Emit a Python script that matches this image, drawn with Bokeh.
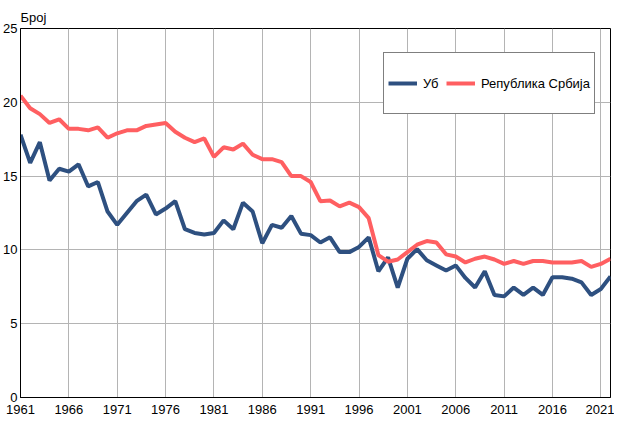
from bokeh.plotting import figure
from bokeh.models import Range1d, FixedTicker, Legend, LegendItem
from bokeh.embed import file_html
from bokeh.resources import INLINE

years = list(range(1961, 2023))
ub = [17.8, 15.9, 17.3, 14.7, 15.5, 15.3, 15.8, 14.3, 14.6, 12.6,
      11.7, 12.5, 13.3, 13.75, 12.4, 12.8, 13.3, 11.4, 11.15, 11.05,
      11.15, 12.0, 11.4, 13.2, 12.6, 10.45, 11.7, 11.5, 12.3, 11.1,
      11.0, 10.5, 10.85, 9.85, 9.85, 10.2, 10.85, 8.55, 9.5, 7.45,
      9.4, 10.05, 9.3, 8.95, 8.6, 8.95, 8.1, 7.45, 8.55, 6.95,
      6.85, 7.45, 6.95, 7.45, 6.95, 8.15, 8.15, 8.05, 7.8, 6.95,
      7.35, 8.2]
srbija = [20.45, 19.6, 19.2, 18.6, 18.85, 18.2, 18.2, 18.1, 18.3, 17.6,
          17.9, 18.1, 18.1, 18.4, 18.5, 18.6, 18.0, 17.6, 17.3, 17.55,
          16.3, 16.95, 16.8, 17.2, 16.45, 16.15, 16.15, 15.95, 15.0, 15.0,
          14.6, 13.3, 13.35, 12.95, 13.2, 12.9, 12.15, 9.65, 9.2, 9.35,
          9.85, 10.35, 10.6, 10.5, 9.7, 9.55, 9.15, 9.4, 9.55, 9.35,
          9.05, 9.25, 9.05, 9.25, 9.25, 9.15, 9.15, 9.15, 9.25, 8.85,
          9.05, 9.4]
x_ticks = list(range(1961, 2022, 5))
y_ticks = [0, 5, 10, 15, 20, 25]
series_names = ["Уб", "Република Србија"]
colors = ["#2E5080", "#FF5F61"]
y_title = "Број"

FONT = "Liberation Sans"

p = figure(width=614, height=419, output_backend="svg", toolbar_location=None,
           x_range=Range1d(1961, 2022), y_range=Range1d(0, 25),
           min_border_left=20, min_border_right=4, min_border_top=28,
           min_border_bottom=22, title=y_title)
p.styles = {"margin-bottom": "-16px"}

p.title.text_font = FONT
p.title.text_font_size = "13px"
p.title.text_font_style = "normal"
p.title.text_color = "#000000"
p.title.align = "left"
p.title.vertical_align = "middle"
p.title.standoff = 5

p.outline_line_color = "#000000"
p.outline_line_width = 1
p.background_fill_color = "white"
p.border_fill_color = "white"

for ax in (p.xaxis[0], p.yaxis[0]):
    ax.axis_line_color = "#000000"
    ax.axis_line_width = 1
    ax.major_tick_out = 0
    ax.major_tick_in = 0
    ax.minor_tick_out = 0
    ax.minor_tick_in = 0
    ax.major_label_text_font = FONT
    ax.major_label_text_font_size = "13px"
    ax.major_label_text_color = "#000000"

p.xaxis[0].ticker = FixedTicker(ticks=x_ticks)
p.yaxis[0].ticker = FixedTicker(ticks=y_ticks)
p.xaxis[0].major_label_standoff = 7
p.yaxis[0].major_label_standoff = 3

p.xgrid[0].ticker = FixedTicker(ticks=x_ticks)
p.ygrid[0].ticker = FixedTicker(ticks=y_ticks)
p.xgrid.grid_line_color = "#B4B4B4"
p.ygrid.grid_line_color = "#B4B4B4"
p.xgrid.grid_line_width = 1
p.ygrid.grid_line_width = 1

r1 = p.line(years, ub, line_color=colors[0], line_width=4)
r2 = p.line(years, srbija, line_color=colors[1], line_width=4)

legend = Legend(items=[LegendItem(label=series_names[0], renderers=[r1]),
                       LegendItem(label=series_names[1], renderers=[r2])],
                orientation="horizontal", location=(363, 283))
legend.margin = 0
legend.padding = 4
legend.spacing = 3
legend.glyph_width = 29
legend.glyph_height = 52
legend.label_height = 52
legend.label_standoff = 6
legend.label_text_font = FONT
legend.label_text_font_size = "13px"
legend.label_text_color = "#000000"
legend.border_line_color = "#000000"
legend.border_line_width = 1
legend.background_fill_color = "white"
legend.background_fill_alpha = 1
p.add_layout(legend, "center")

open("out.html", "w").write(file_html(p, INLINE))
